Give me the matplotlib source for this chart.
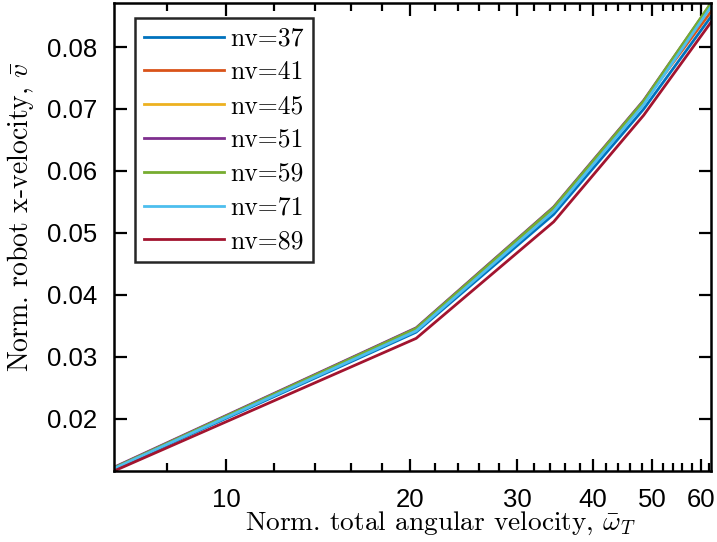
import matplotlib
matplotlib.use("Agg")
import matplotlib.pyplot as plt
from matplotlib.ticker import FixedLocator, NullFormatter, FixedFormatter

plt.rcParams['mathtext.fontset'] = 'cm'

# ---- data ----
omega = [6.55, 20.5, 34.45, 48.4, 62.4]
nv_labels = ['nv=37', 'nv=41', 'nv=45', 'nv=51', 'nv=59', 'nv=71', 'nv=89']
v_nv37 = [0.0119, 0.0340, 0.0530, 0.0700, 0.0849]
v_nv41 = [0.0121, 0.0346, 0.0540, 0.0711, 0.0857]
v_nv45 = [0.0121, 0.0346, 0.0541, 0.0713, 0.0866]
v_nv51 = [0.0122, 0.0347, 0.0542, 0.0714, 0.0870]
v_nv59 = [0.0121, 0.0346, 0.0541, 0.0713, 0.0871]
v_nv71 = [0.0120, 0.0342, 0.0535, 0.0707, 0.0865]
v_nv89 = [0.0116, 0.0330, 0.0518, 0.0690, 0.0840]
series = [v_nv37, v_nv41, v_nv45, v_nv51, v_nv59, v_nv71, v_nv89]
colors = ['#0072BD', '#D95319', '#EDB120', '#7E2F8E', '#77AC30', '#4DBEEE', '#A2142F']

x_major = [10, 20, 30, 40, 50, 60]
x_major_labels = ['10', '20', '30', '40', '50', '60']
x_minor = [8, 12, 14, 16, 18, 22, 24, 26, 28, 32, 34, 36, 38, 42, 44, 46, 48,
           52, 54, 56, 58, 62]
y_major = [0.02, 0.03, 0.04, 0.05, 0.06, 0.07, 0.08]
y_major_labels = ['0.02', '0.03', '0.04', '0.05', '0.06', '0.07', '0.08']

fig = plt.figure(figsize=(7.17, 5.42), dpi=100)
ax = fig.add_axes([114/717, 71/542, (711-114)/717, (471-3)/542])

for vals, c, lab in zip(series, colors, nv_labels):
    ax.plot(omega, vals, color=c, lw=2.0, label=lab)

ax.set_xscale('log')
ax.set_xlim(min(omega), max(omega))
ax.set_ylim(min(v_nv89), max(v_nv59))

ax.xaxis.set_major_locator(FixedLocator(x_major))
ax.xaxis.set_major_formatter(FixedFormatter(x_major_labels))
ax.xaxis.set_minor_locator(FixedLocator(x_minor))
ax.xaxis.set_minor_formatter(NullFormatter())
ax.yaxis.set_major_locator(FixedLocator(y_major))
ax.yaxis.set_major_formatter(FixedFormatter(y_major_labels))

ax.tick_params(which='both', direction='in', top=True, right=True, width=1.6, color='black')
ax.tick_params(which='major', length=9)
ax.tick_params(which='minor', length=6)
ax.tick_params(axis='x', which='major', pad=12)
ax.tick_params(axis='y', which='major', pad=12)
for lbl in ax.get_xticklabels() + ax.get_yticklabels():
    lbl.set_fontfamily('Liberation Sans')
    lbl.set_fontsize(18.5)

for s in ax.spines.values():
    s.set_linewidth(1.8)
    s.set_color('black')

ax.set_xlabel(r'Norm. total angular velocity, $\bar{\omega}_T$', fontfamily='cmr10',
              fontsize=19.7)
ax.set_ylabel(r'Norm. robot x-velocity, $\bar{v}$', fontfamily='cmr10', fontsize=20)
ax.xaxis.set_label_coords((441-114)/597, (471-510)/468)
ax.yaxis.set_label_coords((36-114)/597, (471-217)/468)

leg = ax.legend(loc='upper left', bbox_to_anchor=((135-114)/597, (471-18)/468),
                borderaxespad=0, prop={'family': 'cmr10', 'size': 18.5},
                handlelength=3.1, handletextpad=0.25, labelspacing=0.39,
                fancybox=False, framealpha=1, edgecolor='#262626', borderpad=0.35)
leg.get_frame().set_linewidth(1.8)

fig.savefig('out.png', dpi=100)
